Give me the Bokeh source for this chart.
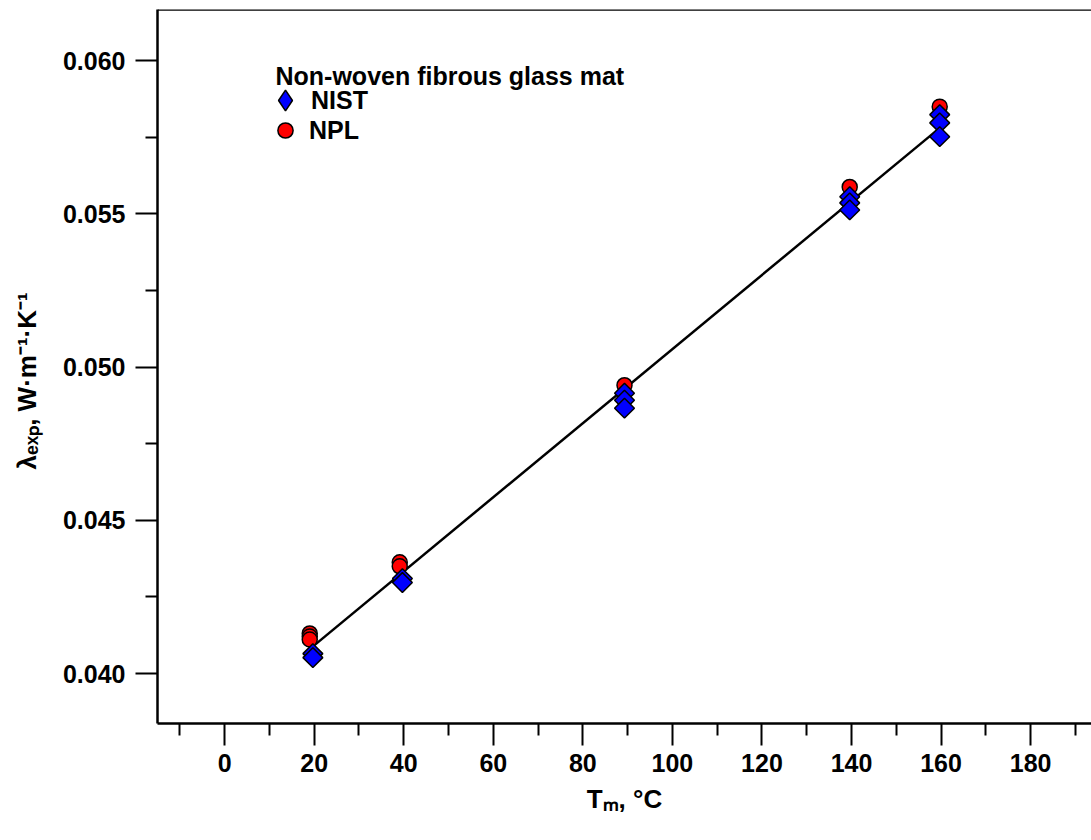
import numpy as np
from bokeh.plotting import figure
from bokeh.models import (Range1d, FixedTicker, PrintfTickFormatter, Span, Label,
                          Legend, LegendItem, ColumnDataSource)
from bokeh.embed import file_html
from bokeh.resources import INLINE

# ---------------- data ----------------
nist_T = [19.7, 19.7, 39.7, 39.7, 89.3, 89.3, 89.3, 139.6, 139.6, 139.6, 159.7, 159.7, 159.7]
nist_k = [0.04065, 0.04052, 0.04310, 0.04297, 0.04915, 0.04892, 0.04866,
          0.05556, 0.05536, 0.05513, 0.05824, 0.05797, 0.05752]
npl_T = [19.0, 19.0, 19.0, 39.1, 39.1, 89.3, 139.6, 159.7]
npl_k = [0.04131, 0.04121, 0.04111, 0.04363, 0.04350, 0.04941, 0.05588, 0.05850]
fit_T = [20.0, 160.0]
fit_k = [0.04092, 0.05784]

x_major = [0, 20, 40, 60, 80, 100, 120, 140, 160, 180]
x_minor = [-10, 10, 30, 50, 70, 90, 110, 130, 150, 170, 190]
y_major = [0.040, 0.045, 0.050, 0.055, 0.060]
y_minor = [0.0425, 0.0475, 0.0525, 0.0575]

x_lo, x_hi = -15.0, 193.6
y_lo, y_hi = 0.03837, 0.06167

legend_title = "Non-woven fibrous glass mat"
x_title = "T\u2098, \u00b0C"
y_title = "\u03bb\u2091\u2093\u209a, W\u00b7m\u207b\u00b9\u00b7K\u207b\u00b9\u00a0\u00a0\u00a0\u00a0"

FONT = "Liberation Sans"

p = figure(width=1091, height=840, output_backend="svg", toolbar_location=None,
           x_range=Range1d(x_lo, x_hi), y_range=Range1d(y_lo, y_hi),
           min_border_left=157, min_border_right=0, min_border_top=9, min_border_bottom=117,
           background_fill_color="white", border_fill_color="white")
p.outline_line_color = None
p.xgrid.visible = False
p.ygrid.visible = False

for ax in (p.xaxis[0], p.yaxis[0]):
    ax.axis_line_width = 2.5
    ax.axis_line_color = "black"
    ax.major_tick_line_width = 2
    ax.minor_tick_line_width = 2
    ax.major_tick_line_color = "black"
    ax.minor_tick_line_color = "black"
    ax.major_tick_out = 22
    ax.major_tick_in = 0
    ax.minor_tick_out = 12
    ax.minor_tick_in = 0
    ax.major_label_text_font = FONT
    ax.major_label_text_font_style = "bold"
    ax.major_label_text_font_size = "25px"
    ax.major_label_text_color = "black"
    ax.axis_label_text_font = FONT
    ax.axis_label_text_font_style = "bold"
    ax.axis_label_text_font_size = "26px"
    ax.axis_label_text_color = "black"

p.xaxis.ticker = FixedTicker(ticks=x_major, minor_ticks=x_minor)
p.yaxis.ticker = FixedTicker(ticks=y_major, minor_ticks=y_minor)
p.xaxis.formatter = PrintfTickFormatter(format="%d")
p.yaxis.formatter = PrintfTickFormatter(format="%.3f")
p.xaxis.major_label_standoff = 8
p.yaxis.major_label_standoff = 10
p.xaxis.axis_label = x_title
p.yaxis.axis_label = y_title
p.xaxis.axis_label_standoff = 9
p.yaxis.axis_label_standoff = 18

# top spine
p.add_layout(Span(location=y_hi, dimension="width", line_color="black", line_width=2.5))

# fit line
p.line(fit_T, fit_k, line_color="black", line_width=2.5)

src_npl = ColumnDataSource(dict(x=npl_T, y=npl_k))
src_nist = ColumnDataSource(dict(x=nist_T, y=nist_k))
r_npl = p.scatter("x", "y", source=src_npl, marker="circle", size=15,
                  fill_color="#ff0000", line_color="black", line_width=1.5)
r_nist = p.scatter("x", "y", source=src_nist, marker="square", angle=np.pi / 4, size=14,
                   fill_color="#0000ff", line_color="black", line_width=1.5)

# legend key glyph for NIST (diamond shape); renderer itself hidden
key_nist = p.scatter("x", "y", source=src_nist, marker="diamond", fill_color="#0000ff",
                     line_color="black", line_width=1.5, visible=False)

common = dict(padding=0, margin=0, spacing=0, label_standoff=0,
              border_line_color=None, background_fill_alpha=0,
              label_text_font=FONT, label_text_font_style="bold",
              label_text_font_size="25px", label_text_color="black")

leg1 = Legend(items=[LegendItem(label="NIST", renderers=[key_nist])],
              location=(102, 597), glyph_width=52, glyph_height=52, label_height=52, **common)
leg2 = Legend(items=[LegendItem(label="NPL", renderers=[r_npl])],
              location=(109, 574), glyph_width=38, glyph_height=38, label_height=38,
              **{**common, "label_standoff": 5})
p.add_layout(leg1, "center")
p.add_layout(leg2, "center")

p.add_layout(Label(x=118, y=648, x_units="screen", y_units="screen", text=legend_title,
                   text_font=FONT, text_font_style="bold", text_font_size="25px",
                   text_color="black", text_align="left", text_baseline="alphabetic"))

open("out.html", "w").write(file_html(p, INLINE))
